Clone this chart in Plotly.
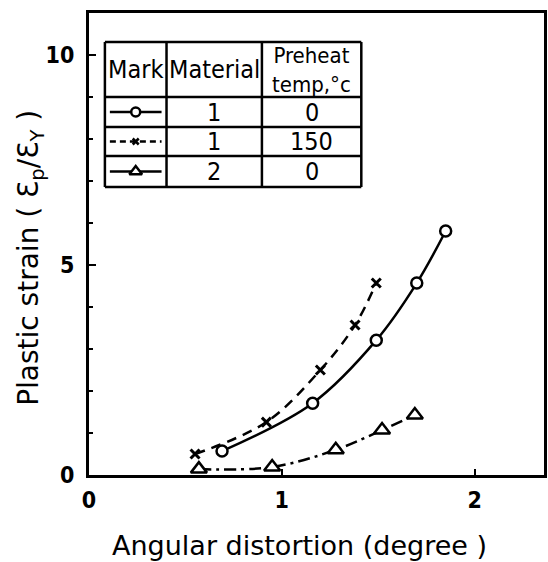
import plotly.graph_objects as go

# Angular distortion (degree) vs plastic strain ratio
x_mat1_0 = [0.69, 1.16, 1.49, 1.70, 1.85]
y_mat1_0 = [0.57, 1.71, 3.21, 4.57, 5.81]

x_mat1_150 = [0.55, 0.92, 1.20, 1.38, 1.49]
y_mat1_150 = [0.50, 1.26, 2.50, 3.57, 4.57]

x_mat2_0 = [0.57, 0.95, 1.28, 1.52, 1.69]
y_mat2_0 = [0.14, 0.19, 0.60, 1.07, 1.43]

x_ticks = [0, 1, 2]
y_ticks = [0, 5, 10]
X_RANGE = [0, 2.36]
Y_RANGE = [0, 11]

header = ["Mark", "Material", "Preheat<br>temp,°c"]
materials = ["1", "1", "2"]
preheat = ["0", "150", "0"]

COND = "DejaVu Sans Condensed, DejaVu Sans, sans-serif"
WIDE = "DejaVu Sans, sans-serif"
BLACK = "black"

fig = go.Figure()

# data curves
fig.add_trace(go.Scatter(
    x=x_mat1_0, y=y_mat1_0, mode="lines+markers", line_shape="spline",
    line=dict(color=BLACK, width=2.5),
    marker=dict(symbol="circle", size=11, color="white", line=dict(width=2.5, color=BLACK)),
    showlegend=False))
fig.add_trace(go.Scatter(
    x=x_mat1_150, y=y_mat1_150, mode="lines+markers", line_shape="spline",
    line=dict(color=BLACK, width=2.5, dash="10px,7px"),
    marker=dict(symbol="x-thin-open", size=9, color=BLACK, line=dict(width=3, color=BLACK)),
    showlegend=False))
fig.add_trace(go.Scatter(
    x=x_mat2_0, y=y_mat2_0, mode="lines+markers", line_shape="spline",
    line=dict(color=BLACK, width=2.5, dash="12px,5px,3px,5px"),
    marker=dict(symbol="triangle-up", size=14, color="white",
                line=dict(width=2.5, color=BLACK)),
    showlegend=False))

# legend table, laid out in data units
def px_x(p):
    return (p - 89) / 194.0

def px_y(p):
    return (475 - p) / 42.0

col_edges = [105, 167, 263, 363]
row_edges = [42, 97, 127, 156, 187]
shapes = []
for cx in col_edges:
    shapes.append(dict(type="line", xref="x", yref="y",
                       x0=px_x(cx), x1=px_x(cx), y0=px_y(row_edges[0]), y1=px_y(row_edges[-1]),
                       line=dict(color=BLACK, width=2.5)))
for ry in row_edges:
    shapes.append(dict(type="line", xref="x", yref="y",
                       x0=px_x(col_edges[0]), x1=px_x(col_edges[-1]), y0=px_y(ry), y1=px_y(ry),
                       line=dict(color=BLACK, width=2.5)))

annotations = []
header_sizes = [25, 25, 22]
for i, h in enumerate(header):
    annotations.append(dict(
        x=px_x((col_edges[i] + col_edges[i + 1]) / 2), y=px_y((row_edges[0] + row_edges[1]) / 2),
        xref="x", yref="y", text=h, showarrow=False,
        font=dict(family=COND, size=header_sizes[i], color=BLACK), align="center"))

row_styles = [
    dict(dash="solid", symbol="circle", size=9),
    dict(dash="6px,4px", symbol="x-thin-open", size=6),
    dict(dash="solid", symbol="triangle-up", size=11),
]
for r in range(3):
    yc = px_y((row_edges[r + 1] + row_edges[r + 2]) / 2)
    xa, xb = px_x(col_edges[0] + 5), px_x(col_edges[1] - 5)
    st = row_styles[r]
    fig.add_trace(go.Scatter(
        x=[xa, (xa + xb) / 2, xb], y=[yc, yc, yc], mode="lines",
        line=dict(color=BLACK, width=2.5, dash=st["dash"]), showlegend=False, hoverinfo="skip"))
    fig.add_trace(go.Scatter(
        x=[(xa + xb) / 2], y=[yc], mode="markers",
        marker=dict(symbol=st["symbol"], size=st["size"],
                    color=BLACK if st["symbol"].endswith("open") else "white",
                    line=dict(width=2.5, color=BLACK)),
        showlegend=False, hoverinfo="skip"))
    annotations.append(dict(
        x=px_x((col_edges[1] + col_edges[2]) / 2), y=yc, xref="x", yref="y",
        text=materials[r], showarrow=False, font=dict(family=COND, size=25, color=BLACK)))
    annotations.append(dict(
        x=px_x((col_edges[2] + col_edges[3]) / 2), y=yc, xref="x", yref="y",
        text=preheat[r], showarrow=False, font=dict(family=COND, size=25, color=BLACK)))

# axis titles
annotations.append(dict(
    x=(301 - 89) / 458, y=-0.153, xref="paper", yref="paper", xanchor="center", yanchor="middle",
    text="Angular distortion (degree )", showarrow=False,
    font=dict(family=WIDE, size=27, color=BLACK)))
annotations.append(dict(
    x=-0.13, y=(475 - 258) / 462, xref="paper", yref="paper", xanchor="center", yanchor="middle",
    text="Plastic strain ( Ɛ<sub>p</sub>/Ɛ<sub>Y</sub> )", showarrow=False, textangle=-90,
    font=dict(family=WIDE, size=28, color=BLACK)))

fig.update_layout(
    width=548, height=562,
    margin=dict(l=89, r=1, t=13, b=87),
    paper_bgcolor="white", plot_bgcolor="white",
    shapes=shapes, annotations=annotations,
    font=dict(family=WIDE, size=22, color=BLACK),
)
fig.update_xaxes(
    range=X_RANGE, tickvals=x_ticks, ticktext=[str(v) for v in x_ticks],
    showgrid=False, zeroline=False, showline=True, linewidth=3, linecolor=BLACK, mirror=True,
    ticks="inside", ticklen=6, tickwidth=2, tickcolor=BLACK, ticklabelstandoff=2,
    tickfont=dict(size=23, family=COND, weight="bold"))
fig.update_yaxes(
    range=Y_RANGE, tickvals=y_ticks, ticktext=[str(v) for v in y_ticks],
    showgrid=False, zeroline=False, showline=True, linewidth=3, linecolor=BLACK, mirror=True,
    ticks="inside", ticklen=7, tickwidth=2, tickcolor=BLACK, ticklabelstandoff=7,
    minor=dict(dtick=1, ticks="inside", ticklen=4, tickwidth=2, tickcolor=BLACK),
    tickfont=dict(size=23, family=COND, weight="bold"))

fig.write_html("out.html")
